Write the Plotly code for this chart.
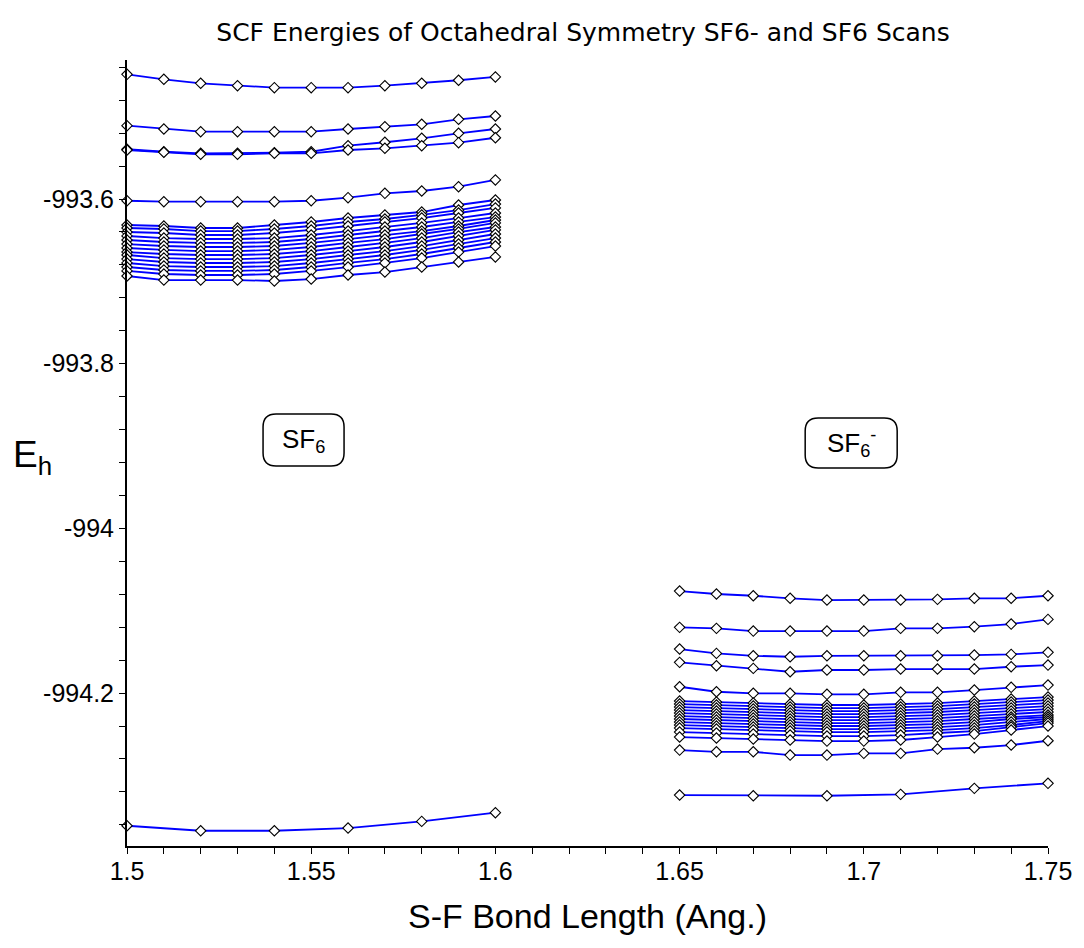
import plotly.graph_objects as go

# Bond lengths (Angstrom) for the two scans
bond_sf6 = [1.50, 1.51, 1.52, 1.53, 1.54, 1.55, 1.56, 1.57, 1.58, 1.59, 1.60]
bond_sf6_coarse = [1.50, 1.52, 1.54, 1.56, 1.58, 1.60]
bond_sf6m = [1.65, 1.66, 1.67, 1.68, 1.69, 1.70, 1.71, 1.72, 1.73, 1.74, 1.75]
bond_sf6m_coarse = [1.65, 1.67, 1.69, 1.71, 1.73, 1.75]

# SCF energies (Hartree), neutral SF6
sf6_e01 = [-993.4486, -993.4546, -993.4595, -993.4624, -993.4648, -993.4648, -993.4648, -993.4624, -993.4595, -993.4558, -993.4518]
sf6_e02 = [-993.5110, -993.5150, -993.5183, -993.5183, -993.5183, -993.5183, -993.5150, -993.5122, -993.5093, -993.5032, -993.4992]
sf6_e03 = [-993.5396, -993.5426, -993.5445, -993.5445, -993.5438, -993.5426, -993.5353, -993.5311, -993.5263, -993.5202, -993.5150]
sf6_e04 = [-993.5405, -993.5433, -993.5457, -993.5457, -993.5445, -993.5445, -993.5405, -993.5384, -993.5353, -993.5316, -993.5256]
sf6_e05 = [-993.6021, -993.6033, -993.6033, -993.6033, -993.6033, -993.6021, -993.5984, -993.5931, -993.5903, -993.5851, -993.5769]
sf6_e06 = [-993.6316, -993.6328, -993.6352, -993.6352, -993.6316, -993.6279, -993.6231, -993.6194, -993.6158, -993.6073, -993.6012]
sf6_e07 = [-993.6352, -993.6364, -993.6389, -993.6389, -993.6364, -993.6328, -993.6279, -993.6243, -993.6194, -993.6134, -993.6061]
sf6_e08 = [-993.6401, -993.6413, -993.6437, -993.6437, -993.6413, -993.6376, -993.6328, -993.6279, -993.6231, -993.6170, -993.6109]
sf6_e09 = [-993.6449, -993.6474, -993.6486, -993.6486, -993.6474, -993.6437, -993.6389, -993.6340, -993.6291, -993.6231, -993.6170]
sf6_e10 = [-993.6498, -993.6522, -993.6534, -993.6534, -993.6522, -993.6486, -993.6437, -993.6389, -993.6340, -993.6279, -993.6219]
sf6_e11 = [-993.6547, -993.6571, -993.6583, -993.6583, -993.6571, -993.6534, -993.6486, -993.6437, -993.6389, -993.6328, -993.6255]
sf6_e12 = [-993.6595, -993.6619, -993.6632, -993.6632, -993.6619, -993.6583, -993.6534, -993.6486, -993.6425, -993.6364, -993.6291]
sf6_e13 = [-993.6644, -993.6668, -993.6680, -993.6680, -993.6668, -993.6632, -993.6583, -993.6534, -993.6474, -993.6401, -993.6340]
sf6_e14 = [-993.6680, -993.6717, -993.6729, -993.6729, -993.6717, -993.6680, -993.6632, -993.6583, -993.6522, -993.6449, -993.6376]
sf6_e15 = [-993.6729, -993.6765, -993.6777, -993.6777, -993.6765, -993.6729, -993.6680, -993.6632, -993.6571, -993.6498, -993.6425]
sf6_e16 = [-993.6777, -993.6814, -993.6826, -993.6826, -993.6814, -993.6777, -993.6729, -993.6680, -993.6619, -993.6547, -993.6474]
sf6_e17 = [-993.6826, -993.6862, -993.6874, -993.6874, -993.6862, -993.6826, -993.6777, -993.6729, -993.6668, -993.6595, -993.6522]
sf6_e18 = [-993.6874, -993.6911, -993.6923, -993.6923, -993.6911, -993.6874, -993.6826, -993.6777, -993.6717, -993.6644, -993.6571]
sf6_e19 = [-993.6935, -993.6984, -993.6984, -993.6984, -993.6996, -993.6972, -993.6923, -993.6887, -993.6826, -993.6765, -993.6704]
sf6_e20 = [-994.3611, -994.3672, -994.3672, -994.3639, -994.3558, -994.3453]

# SCF energies (Hartree), anion SF6-
sf6m_e01 = [-994.0761, -994.0797, -994.0818, -994.0849, -994.0870, -994.0870, -994.0870, -994.0862, -994.0849, -994.0849, -994.0818]
sf6m_e02 = [-994.1202, -994.1214, -994.1247, -994.1247, -994.1247, -994.1247, -994.1214, -994.1214, -994.1194, -994.1162, -994.1105]
sf6m_e03 = [-994.1465, -994.1518, -994.1547, -994.1559, -994.1547, -994.1547, -994.1547, -994.1547, -994.1538, -994.1530, -994.1505]
sf6m_e04 = [-994.1627, -994.1668, -994.1700, -994.1741, -994.1720, -994.1720, -994.1708, -994.1708, -994.1708, -994.1680, -994.1660]
sf6m_e05 = [-994.1923, -994.1984, -994.2003, -994.2003, -994.2015, -994.2015, -994.1991, -994.1991, -994.1963, -994.1930, -994.1903]
sf6m_e06 = [-994.2097, -994.2109, -994.2121, -994.2133, -994.2145, -994.2145, -994.2133, -994.2121, -994.2097, -994.2073, -994.2048]
sf6m_e07 = [-994.2133, -994.2145, -994.2158, -994.2170, -994.2182, -994.2182, -994.2170, -994.2158, -994.2133, -994.2109, -994.2085]
sf6m_e08 = [-994.2170, -994.2182, -994.2194, -994.2206, -994.2218, -994.2218, -994.2206, -994.2194, -994.2170, -994.2145, -994.2121]
sf6m_e09 = [-994.2206, -994.2218, -994.2230, -994.2243, -994.2255, -994.2255, -994.2243, -994.2230, -994.2206, -994.2182, -994.2158]
sf6m_e10 = [-994.2243, -994.2255, -994.2267, -994.2279, -994.2291, -994.2291, -994.2279, -994.2267, -994.2243, -994.2218, -994.2194]
sf6m_e11 = [-994.2279, -994.2291, -994.2303, -994.2315, -994.2328, -994.2328, -994.2315, -994.2303, -994.2279, -994.2255, -994.2230]
sf6m_e12 = [-994.2315, -994.2328, -994.2340, -994.2352, -994.2364, -994.2364, -994.2352, -994.2340, -994.2315, -994.2291, -994.2267]
sf6m_e13 = [-994.2352, -994.2364, -994.2376, -994.2388, -994.2400, -994.2400, -994.2388, -994.2376, -994.2352, -994.2315, -994.2291]
sf6m_e14 = [-994.2388, -994.2400, -994.2413, -994.2425, -994.2437, -994.2437, -994.2425, -994.2413, -994.2388, -994.2352, -994.2315]
sf6m_e15 = [-994.2425, -994.2437, -994.2449, -994.2461, -994.2473, -994.2473, -994.2461, -994.2449, -994.2425, -994.2388, -994.2340]
sf6m_e16 = [-994.2473, -994.2485, -994.2498, -994.2510, -994.2522, -994.2522, -994.2510, -994.2485, -994.2461, -994.2413, -994.2364]
sf6m_e17 = [-994.2534, -994.2546, -994.2558, -994.2570, -994.2583, -994.2583, -994.2570, -994.2534, -994.2498, -994.2449, -994.2400]
sf6m_e18 = [-994.2692, -994.2713, -994.2713, -994.2753, -994.2753, -994.2732, -994.2732, -994.2680, -994.2664, -994.2631, -994.2579]
sf6m_e19 = [-994.3238, -994.3247, -994.3247, -994.3230, -994.3157, -994.3096]

# Axis ticks
x_tick_vals = [1.50, 1.55, 1.60, 1.65, 1.70, 1.75]
x_tick_text = ["1.5", "1.55", "1.6", "1.65", "1.7", "1.75"]
y_tick_vals = [-994.2, -994.0, -993.8, -993.6]
y_tick_text = ["-994.2", "-994", "-993.8", "-993.6"]

series = [(bond_sf6, e) for e in (sf6_e01, sf6_e02, sf6_e03, sf6_e04, sf6_e05, sf6_e06,
                                  sf6_e07, sf6_e08, sf6_e09, sf6_e10, sf6_e11, sf6_e12,
                                  sf6_e13, sf6_e14, sf6_e15, sf6_e16, sf6_e17, sf6_e18, sf6_e19)]
series.append((bond_sf6_coarse, sf6_e20))
series += [(bond_sf6m, e) for e in (sf6m_e01, sf6m_e02, sf6m_e03, sf6m_e04, sf6m_e05, sf6m_e06,
                                    sf6m_e07, sf6m_e08, sf6m_e09, sf6m_e10, sf6m_e11, sf6m_e12,
                                    sf6m_e13, sf6m_e14, sf6m_e15, sf6m_e16, sf6m_e17, sf6m_e18)]
series.append((bond_sf6m_coarse, sf6m_e19))

fig = go.Figure()

# curves first, then the point symbols on top
for xs, ys in series:
    fig.add_trace(go.Scatter(x=xs, y=ys, mode="lines",
                             line=dict(color="#0000ff", width=1.8),
                             cliponaxis=False, hoverinfo="skip", showlegend=False))
for xs, ys in series:
    fig.add_trace(go.Scatter(x=xs, y=ys, mode="markers",
                             marker=dict(symbol="diamond", size=8, color="white",
                                         line=dict(color="black", width=1.1)),
                             cliponaxis=False, showlegend=False))

axis_font = dict(family="Liberation Sans, Arial, sans-serif", size=25, color="black")

fig.update_xaxes(
    range=[1.5, 1.75], showgrid=False, zeroline=False,
    showline=True, linecolor="black", linewidth=2,
    tickmode="array", tickvals=x_tick_vals, ticktext=x_tick_text,
    ticks="outside", ticklen=6, tickwidth=1, tickcolor="black",
    tickfont=axis_font, ticklabelstandoff=-4,
    minor=dict(tickmode="linear", tick0=1.5, dtick=0.01, ticks="outside",
               ticklen=6, tickwidth=1, tickcolor="black", showgrid=False),
    title=dict(text="S-F Bond Length (Ang.)",
               font=dict(family="Liberation Sans, Arial, sans-serif", size=34, color="black"),
               standoff=20),
)
fig.update_yaxes(
    range=[-994.3857, -993.4312], showgrid=False, zeroline=False,
    showline=True, linecolor="black", linewidth=2,
    tickmode="array", tickvals=y_tick_vals, ticktext=y_tick_text,
    ticks="outside", ticklen=6, tickwidth=1, tickcolor="black",
    tickfont=axis_font,
    minor=dict(tickmode="linear", tick0=-993.6, dtick=0.04, ticks="outside",
               ticklen=6, tickwidth=1, tickcolor="black", showgrid=False),
)


def rounded_box(w, h, r):
    hw, hh = w / 2, h / 2
    return (f"M {-hw + r},{-hh} L {hw - r},{-hh} Q {hw},{-hh} {hw},{-hh + r} "
            f"L {hw},{hh - r} Q {hw},{hh} {hw - r},{hh} "
            f"L {-hw + r},{hh} Q {-hw},{hh} {-hw},{hh - r} "
            f"L {-hw},{-hh + r} Q {-hw},{-hh} {-hw + r},{-hh} Z")


labels = [
    ("SF<sub>6</sub>", 0.1917, 0.5165, 81, 52),
    ("SF<sub>6</sub><sup>-</sup>", 0.7863, 0.5127, 92, 50),
]
for text, xa, ya, w, h in labels:
    fig.add_shape(type="path", xref="paper", yref="paper",
                  xsizemode="pixel", ysizemode="pixel", xanchor=xa, yanchor=ya,
                  path=rounded_box(w, h, 13),
                  line=dict(color="black", width=1.5), fillcolor="rgba(0,0,0,0)")
    fig.add_annotation(x=xa, y=ya, xref="paper", yref="paper", text=text,
                       showarrow=False, xanchor="center", yanchor="middle",
                       font=dict(family="Liberation Sans, Arial, sans-serif", size=26, color="black"))

# vertical axis label
fig.add_annotation(x=(10 - 127) / 931, y=(846 - 457) / 786, xref="paper", yref="paper",
                   text="E<sub>h</sub>", showarrow=False, xanchor="left", yanchor="middle",
                   font=dict(family="Liberation Sans, Arial, sans-serif", size=37, color="black"))

fig.update_layout(
    width=1084, height=948,
    margin=dict(l=127, r=26, t=60, b=102),
    paper_bgcolor="white", plot_bgcolor="white",
    title=dict(text="SCF Energies of Octahedral Symmetry SF6- and SF6 Scans",
               x=583 / 1084, xref="container", xanchor="center",
               y=1 - 32 / 948, yref="container", yanchor="middle",
               font=dict(family="DejaVu Sans, sans-serif", size=25, color="black")),
)

fig.write_html("out.html")
